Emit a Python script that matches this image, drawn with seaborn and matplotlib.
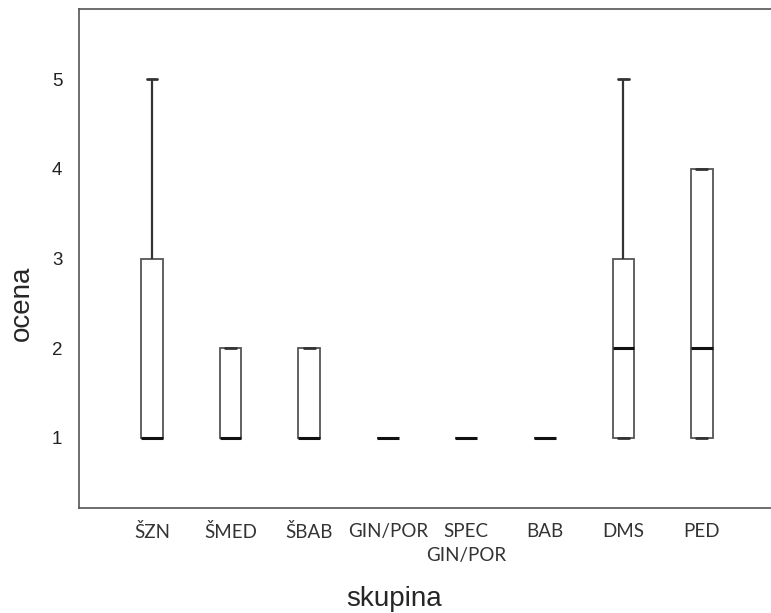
import matplotlib
matplotlib.use("Agg")
import matplotlib.pyplot as plt
import pandas as pd
import seaborn as sns

# raw scores per group
groups = ["ŠZN", "ŠMED", "ŠBAB", "GIN/POR", "SPEC\nGIN/POR", "BAB", "DMS", "PED"]
szn = [1, 1, 1, 1, 1, 1, 1, 2, 3, 3, 3, 5]
smed = [1, 1, 1, 1, 1, 2, 2, 2]
sbab = [1, 1, 1, 1, 1, 2, 2, 2]
gin_por = [1, 1, 1, 1]
spec_gin_por = [1, 1, 1]
bab = [1, 1, 1, 1, 1]
dms = [1, 1, 1, 2, 2, 3, 3, 5]
ped = [1, 1, 1, 2, 2, 4, 4, 4]

values = [szn, smed, sbab, gin_por, spec_gin_por, bab, dms, ped]
df = pd.DataFrame(
    [(g, v) for g, vals in zip(groups, values) for v in vals],
    columns=["skupina", "ocena"],
)

sns.set_style("white")
plt.rcParams["font.family"] = ["Liberation Sans", "DejaVu Sans"]

fig = plt.figure(figsize=(7.71, 6.13), dpi=100)
ax = fig.add_axes([0.1025, 0.1713, 0.8975, 0.814])

edge = "#555555"
sns.boxplot(
    data=df, x="skupina", y="ocena", order=groups, ax=ax,
    width=0.275, color="white", linecolor=edge, linewidth=1.3,
    whis=1.5, fliersize=0,
    medianprops=dict(color="#111111", linewidth=2.2),
    whiskerprops=dict(color="#333333", linewidth=1.6),
    capprops=dict(color="#333333", linewidth=2),
)

ax.set_xlim(-0.93, 7.88)
ax.set_ylim(0.22, 5.78)
ax.set_yticks([1, 2, 3, 4, 5])

for side in ["left", "top", "bottom"]:
    ax.spines[side].set_color("#555555")
    ax.spines[side].set_linewidth(1.2)
ax.spines["right"].set_visible(False)

ax.tick_params(axis="both", direction="out", length=5, width=1, color="#555555")
ax.tick_params(axis="y", labelsize=13.5, pad=7, labelcolor="#222222")
ax.tick_params(axis="x", pad=6)
for lbl in ax.get_xticklabels():
    lbl.set_family(["Lato", "DejaVu Sans"])
    lbl.set_fontsize(13.5)
    lbl.set_color("#333333")
    lbl.set_linespacing(1.45)

ax.set_xlabel("skupina", fontsize=20)
ax.set_ylabel("ocena", fontsize=20)
ax.xaxis.set_label_coords(0.455, -0.182)
ax.yaxis.set_label_coords(-0.082, 0.411)
ax.xaxis.label.set_va("center")
ax.yaxis.label.set_va("center")

fig.savefig("out.png", dpi=100)
plt.close()
